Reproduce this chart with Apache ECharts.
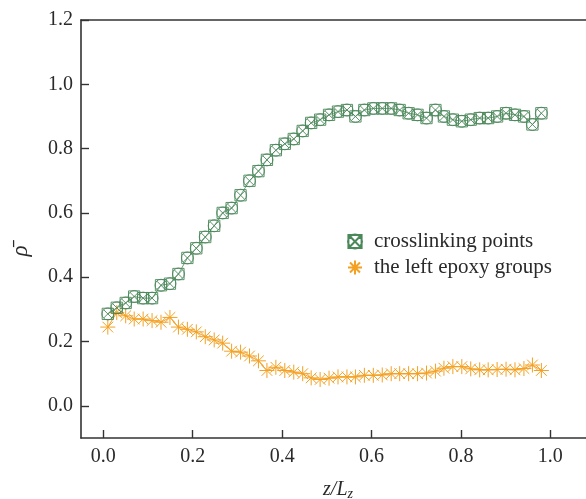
<!DOCTYPE html>
<html>
<head>
<meta charset="utf-8">
<script src="https://cdn.jsdelivr.net/npm/echarts@6/dist/echarts.min.js"></script>
<style>
  html, body { margin: 0; padding: 0; background: #fff; overflow: hidden; }
  #chart { width: 586px; height: 499px; }
</style>
</head>
<body>
<div id="chart"></div>
<script>
// Normalised position along the box, z / Lz
const zPos = [
  0.010, 0.030, 0.050, 0.069, 0.089, 0.109, 0.129, 0.149, 0.168, 0.188,
  0.208, 0.228, 0.248, 0.267, 0.287, 0.307, 0.327, 0.347, 0.366, 0.386,
  0.406, 0.426, 0.446, 0.465, 0.485, 0.505, 0.525, 0.545, 0.564, 0.584,
  0.604, 0.624, 0.644, 0.663, 0.683, 0.703, 0.723, 0.743, 0.762, 0.782,
  0.802, 0.822, 0.842, 0.861, 0.881, 0.901, 0.921, 0.941, 0.960, 0.980
];

// Mean density of crosslinking points
const crosslinking = [
  0.286, 0.305, 0.320, 0.340, 0.335, 0.335, 0.375, 0.380, 0.410, 0.460,
  0.490, 0.525, 0.560, 0.600, 0.615, 0.655, 0.700, 0.730, 0.765, 0.795,
  0.815, 0.830, 0.855, 0.880, 0.890, 0.905, 0.915, 0.920, 0.900, 0.920,
  0.925, 0.925, 0.925, 0.920, 0.910, 0.905, 0.895, 0.920, 0.900, 0.890,
  0.885, 0.890, 0.895, 0.895, 0.900, 0.910, 0.905, 0.900, 0.875, 0.910
];

// Mean density of the remaining epoxy groups
const epoxyLeft = [
  0.245, 0.290, 0.280, 0.270, 0.270, 0.265, 0.260, 0.275, 0.245, 0.238,
  0.230, 0.215, 0.205, 0.195, 0.170, 0.167, 0.155, 0.140, 0.110, 0.120,
  0.110, 0.105, 0.100, 0.087, 0.082, 0.086, 0.090, 0.090, 0.090, 0.095,
  0.095, 0.096, 0.100, 0.100, 0.100, 0.100, 0.102, 0.108, 0.117, 0.122,
  0.122, 0.115, 0.112, 0.112, 0.113, 0.114, 0.112, 0.116, 0.127, 0.110
];

const xTicks = [0.0, 0.2, 0.4, 0.6, 0.8, 1.0];
const yTicks = [0.0, 0.2, 0.4, 0.6, 0.8, 1.0, 1.2];

const seriesNames = ['crosslinking points', 'the left epoxy groups'];

const GREEN = '#4a8759';
const ORANGE = '#f4a021';
const INK = '#2a2a2a';
const SERIF = '"Liberation Serif", "DejaVu Serif", serif';

// square + circle + diagonal cross
const crossedCircle = 'path://M2 2H18V18H2Z M18.5 10A8.5 8.5 0 1 1 1.5 10A8.5 8.5 0 1 1 18.5 10Z M4 4L16 16M16 4L4 16';
// eight-armed asterisk
const asterisk = 'path://M10 0V20M0 10H20M2.9 2.9L17.1 17.1M17.1 2.9L2.9 17.1';

const pairs = (ys) => zPos.map((z, i) => [z, ys[i]]);

const chart = echarts.init(document.getElementById('chart'), null, { renderer: 'canvas' });

chart.setOption({
  animation: false,
  backgroundColor: '#fff',
  grid: {
    left: 81, top: 20, height: 418, width: 514,
    outerBoundsMode: 'none',
    containLabel: false,
    show: false
  },
  legend: {
    orient: 'vertical',
    left: 342, top: 226,
    itemWidth: 14, itemHeight: 14, itemGap: 5,
    textStyle: { fontFamily: SERIF, fontSize: 21, color: INK, padding: [0, 0, 0, 7] },
    data: [
      { name: seriesNames[0], icon: crossedCircle },
      { name: seriesNames[1], icon: asterisk }
    ]
  },
  xAxis: [
    {
      type: 'value', min: -0.05, max: 1.1,
      name: '{i|z}{i|/L}{s|z}',
      nameLocation: 'middle', nameGap: 40,
      nameTextStyle: {
        rich: {
          i: { fontFamily: SERIF, fontStyle: 'italic', fontSize: 20, color: INK },
          s: { fontFamily: SERIF, fontStyle: 'italic', fontSize: 14, color: INK, verticalAlign: 'bottom', padding: [9, 0, 0, 0] }
        }
      },
      axisLine: { show: true, onZero: false, lineStyle: { color: '#333', width: 1.6 } },
      axisTick: { show: true, inside: true, length: 8, customValues: xTicks, lineStyle: { color: '#333', width: 1.4 } },
      axisLabel: {
        customValues: xTicks, margin: 9,
        fontFamily: SERIF, fontSize: 20, color: INK,
        formatter: (v) => v.toFixed(1)
      },
      splitLine: { show: false }
    },
    {
      // top frame line
      type: 'value', position: 'top', min: -0.05, max: 1.1,
      axisLine: { show: true, onZero: false, lineStyle: { color: '#333', width: 1.6 } },
      axisTick: { show: false },
      axisLabel: { show: false },
      splitLine: { show: false }
    }
  ],
  yAxis: {
    type: 'value', min: -0.1, max: 1.2,
    name: '\u03C1\u0304',
    nameLocation: 'middle', nameGap: 49, nameRotate: 90,
    nameTextStyle: { fontFamily: SERIF, fontStyle: 'italic', fontSize: 23, color: INK, padding: [0, 44, 0, 0] },
    axisLine: { show: true, onZero: false, lineStyle: { color: '#333', width: 1.6 } },
    axisTick: { show: true, inside: true, length: 8, customValues: yTicks, lineStyle: { color: '#333', width: 1.4 } },
    axisLabel: {
      customValues: yTicks, margin: 8,
      fontFamily: SERIF, fontSize: 20, color: INK,
      formatter: (v) => v.toFixed(1)
    },
    splitLine: { show: false }
  },
  series: [
    {
      name: seriesNames[0],
      type: 'line',
      data: pairs(crosslinking),
      symbol: crossedCircle, symbolSize: 12,
      showAllSymbol: true,
      lineStyle: { color: GREEN, width: 0.8 },
      itemStyle: { color: 'rgba(255,255,255,0)', borderColor: GREEN, borderWidth: 0.9 },
      z: 3
    },
    {
      name: seriesNames[1],
      type: 'line',
      data: pairs(epoxyLeft),
      symbol: asterisk, symbolSize: 15,
      showAllSymbol: true,
      lineStyle: { color: ORANGE, width: 1 },
      itemStyle: { color: 'rgba(255,255,255,0)', borderColor: ORANGE, borderWidth: 1 },
      z: 2
    }
  ]
});
</script>
</body>
</html>
